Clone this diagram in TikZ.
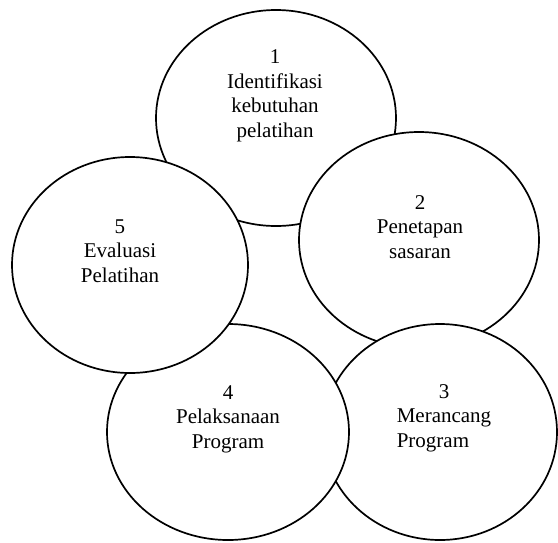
\documentclass[tikz,border=0pt]{standalone}
\usepackage{fontspec}
\usepackage{calc}
\setmainfont{Liberation Serif}
\usetikzlibrary{shapes.geometric}
\begin{document}
\begin{tikzpicture}[x=1pt,y=-1pt,
  stage/.style={draw=black, line width=1.7pt, fill=white, ellipse, inner sep=0pt,
                minimum width=#1, minimum height=216pt},
  stage/.default=240pt,
  caption/.style={align=center, font=\fontsize{21}{24.5}\selectfont, inner sep=0pt}]
\useasboundingbox (0,0) rectangle (558,542);
% the five stages of the training cycle, each one laid over the one before
\node[stage] (e1) at (276,118) {};
\node[stage] (e2) at (419,240) {};
\node[stage=234pt] (e3) at (440,432) {};
\node[stage=242pt] (e4) at (228,432) {};
\node[stage=236pt] (e5) at (130,265) {};
% stage captions
\node[caption] (t1) at (275,96) {1\\Identifikasi\\kebutuhan\\pelatihan};
\node[caption] (t2) at (420,227) {2\\Penetapan\\sasaran};
\node[caption, align=left] (t3) at (444,418)
  {\makebox[\widthof{Merancang}]{3}\\Merancang\\Program};
\node[caption] (t4) at (228,419) {4\\Pelaksanaan\\Program};
\node[caption] (t5) at (120,251) {5\\Evaluasi\\Pelatihan};
\end{tikzpicture}
\end{document}
